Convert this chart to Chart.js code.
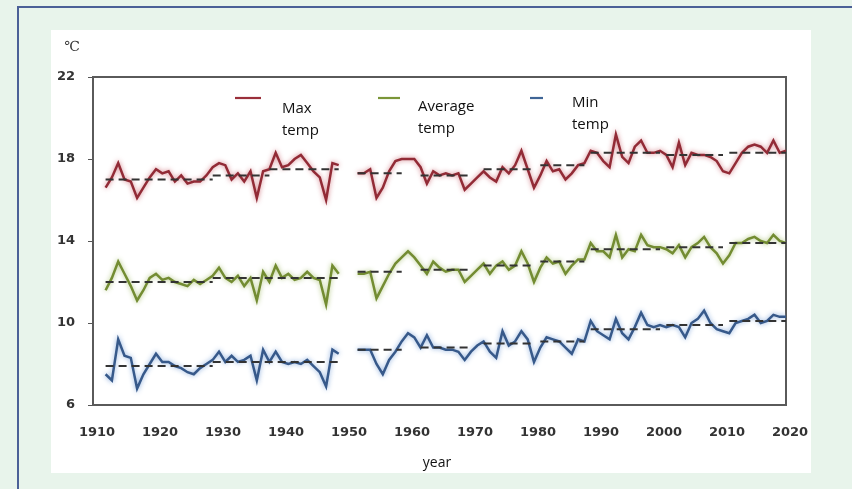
<!DOCTYPE html>
<html>
<head>
<meta charset="utf-8">
<script src="https://cdn.jsdelivr.net/npm/chart.js@4.4.0/dist/chart.umd.min.js"></script>
<style>
  html, body { margin: 0; padding: 0; width: 852px; height: 489px; overflow: hidden; background: #e8f4eb; }
  #frame { position: absolute; left: 17px; top: 6px; width: 860px; height: 500px; border: 2px solid #4b6097; box-sizing: border-box; }
  #panel { position: absolute; left: 51px; top: 30px; width: 760px; height: 443px; background: #ffffff; }
  #wrap { position: absolute; left: 0; top: 0; width: 852px; height: 489px; }
</style>
</head>
<body>
<div id="frame"></div>
<div id="panel"></div>
<div id="wrap"><canvas id="chart" width="852" height="489"></canvas></div>
<script>
// years 1912..2020, 1950 and 1951 are missing
const firstYear = 1912;
const lastYear = 2020;

const maxTemp = [
  16.6, 17.1, 17.8, 17.0, 16.9, 16.1, 16.6, 17.1, 17.5, 17.3,
  17.4, 16.9, 17.2, 16.8, 16.9, 16.9, 17.2, 17.6, 17.8, 17.7,
  17.0, 17.3, 16.9, 17.4, 16.1, 17.4, 17.5, 18.3, 17.6, 17.7,
  18.0, 18.2, 17.8, 17.4, 17.1, 16.0, 17.8, 17.7, null, null,
  17.3, 17.3, 17.5, 16.1, 16.6, 17.4, 17.9, 18.0, 18.0, 18.0,
  17.6, 16.8, 17.4, 17.2, 17.3, 17.2, 17.3, 16.5, 16.8, 17.1,
  17.4, 17.1, 16.9, 17.6, 17.3, 17.7, 18.4, 17.5, 16.6, 17.2,
  17.9, 17.4, 17.5, 17.0, 17.3, 17.7, 17.8, 18.4, 18.3, 17.9,
  17.6, 19.2, 18.1, 17.8, 18.6, 18.9, 18.3, 18.3, 18.4, 18.2,
  17.6, 18.8, 17.7, 18.3, 18.2, 18.2, 18.1, 17.9, 17.4, 17.3,
  17.8, 18.3, 18.6, 18.7, 18.6, 18.3, 18.9, 18.3, 18.4
];
const avgTemp = [
  11.6, 12.2, 13.0, 12.4, 11.8, 11.1, 11.6, 12.2, 12.4, 12.1,
  12.2, 12.0, 11.9, 11.8, 12.1, 11.9, 12.1, 12.3, 12.7, 12.2,
  12.0, 12.3, 11.8, 12.2, 11.1, 12.5, 12.0, 12.8, 12.2, 12.4,
  12.1, 12.2, 12.5, 12.2, 12.1, 10.9, 12.8, 12.4, null, null,
  12.4, 12.4, 12.5, 11.2, 11.8, 12.4, 12.9, 13.2, 13.5, 13.2,
  12.8, 12.4, 13.0, 12.7, 12.5, 12.6, 12.6, 12.0, 12.3, 12.6,
  12.9, 12.4, 12.8, 13.0, 12.6, 12.8, 13.5, 12.9, 12.0, 12.7,
  13.2, 12.9, 13.0, 12.4, 12.8, 13.1, 13.1, 13.9, 13.5, 13.5,
  13.2, 14.3, 13.2, 13.6, 13.5, 14.3, 13.8, 13.7, 13.7, 13.6,
  13.4, 13.8, 13.2, 13.7, 13.9, 14.2, 13.7, 13.4, 12.9, 13.3,
  13.9, 13.9, 14.1, 14.2, 14.0, 13.9, 14.3, 14.0, 13.9
];
const minTemp = [
  7.5, 7.2, 9.2, 8.4, 8.3, 6.8, 7.5, 8.0, 8.5, 8.1,
  8.1, 7.9, 7.8, 7.6, 7.5, 7.8, 8.0, 8.2, 8.6, 8.1,
  8.4, 8.1, 8.2, 8.4, 7.2, 8.7, 8.1, 8.6, 8.1, 8.0,
  8.1, 8.0, 8.2, 7.9, 7.6, 6.9, 8.7, 8.5, null, null,
  8.7, 8.7, 8.7, 8.0, 7.5, 8.2, 8.6, 9.1, 9.5, 9.3,
  8.8, 9.4, 8.8, 8.8, 8.7, 8.7, 8.6, 8.2, 8.6, 8.9,
  9.1, 8.6, 8.3, 9.6, 8.9, 9.1, 9.6, 9.2, 8.1, 8.8,
  9.3, 9.2, 9.1, 8.8, 8.5, 9.2, 9.1, 10.1, 9.6, 9.4,
  9.2, 10.2, 9.5, 9.2, 9.8, 10.5, 9.9, 9.8, 9.9, 9.8,
  9.9, 9.8, 9.3, 10.0, 10.2, 10.6, 10.0, 9.7, 9.6, 9.5,
  10.0, 10.1, 10.2, 10.4, 10.0, 10.1, 10.4, 10.3, 10.3
];

// period means: [from, to, value]
const maxTrend = [[1912, 1929, 17.0], [1929, 1938, 17.2], [1938, 1949, 17.5], [1952, 1959, 17.3], [1962, 1970, 17.2],
  [1972, 1980, 17.5], [1981, 1988, 17.7], [1989, 2000, 18.3], [2001, 2010, 18.2], [2011, 2020, 18.3]];
const avgTrend = [[1912, 1929, 12.0], [1929, 1949, 12.2], [1952, 1959, 12.5], [1962, 1970, 12.6],
  [1972, 1980, 12.8], [1981, 1988, 13.0], [1989, 2000, 13.6], [2001, 2010, 13.7], [2011, 2020, 13.9]];
const minTrend = [[1912, 1929, 7.9], [1929, 1949, 8.1], [1952, 1959, 8.7], [1962, 1970, 8.8],
  [1972, 1980, 9.0], [1981, 1988, 9.1], [1989, 2000, 9.7], [2001, 2010, 9.9], [2011, 2020, 10.1]];

const yTicks = [6, 10, 14, 18, 22];
const xTicks = [1910, 1920, 1930, 1940, 1950, 1960, 1970, 1980, 1990, 2000, 2010, 2020];

const years = [];
for (let y = firstYear; y <= lastYear; y++) years.push(y);

const toPoints = vals => years.map((yr, i) => ({ x: yr, y: vals[i] }));
const trendPoints = segs => {
  const pts = [];
  segs.forEach(s => {
    pts.push({ x: s[0], y: s[2] }, { x: s[1], y: s[2] }, { x: s[1] + 0.5, y: null });
  });
  return pts;
};

const trendStyle = {
  borderColor: '#333333', borderWidth: 2, borderDash: [8, 5], pointRadius: 0,
  fill: false, spanGaps: false, order: 0
};
const lineStyle = { borderWidth: 2.5, pointRadius: 0, fill: false, spanGaps: false, tension: 0, order: 1 };

const glow = {
  id: 'glow',
  beforeDatasetDraw(chart, args) {
    const ds = chart.data.datasets[args.index];
    if (!ds.glow) return;
    const ctx = chart.ctx;
    ctx.save();
    ctx.shadowColor = ds.glow;
    ctx.shadowBlur = 5;
  },
  afterDatasetDraw(chart, args) {
    const ds = chart.data.datasets[args.index];
    if (ds.glow) chart.ctx.restore();
  }
};

const decor = {
  id: 'decor',
  beforeDatasetsDraw(chart) {
    const { ctx, chartArea: a } = chart;
    ctx.save();
    ctx.strokeStyle = '#5a5a5a';
    ctx.lineWidth = 2;
    ctx.strokeRect(a.left, a.top, a.right - a.left, a.bottom - a.top);
    ctx.restore();
  },
  afterDraw(chart) {
    const ctx = chart.ctx;
    ctx.save();
    ctx.fillStyle = '#333';
    ctx.font = '14px "DejaVu Serif"';
    ctx.textAlign = 'center';
    ctx.textBaseline = 'middle';
    ctx.fillText('℃', 72, 47);

    ctx.fillStyle = '#111';
    ctx.font = '14px "Open Sans"';
    ctx.fillText('year', 437, 463);

    // legend
    const items = [
      { color: '#9a2f3a', x1: 235, x2: 261, tx: 282, lines: ['Max', 'temp'], ty: 109 },
      { color: '#7b9638', x1: 378, x2: 400, tx: 418, lines: ['Average', 'temp'], ty: 107 },
      { color: '#3f6596', x1: 530, x2: 543, tx: 572, lines: ['Min', 'temp'], ty: 103 }
    ];
    ctx.textAlign = 'left';
    ctx.font = '15px "Open Sans"';
    items.forEach(it => {
      ctx.strokeStyle = it.color;
      ctx.lineWidth = 2.2;
      ctx.beginPath();
      ctx.moveTo(it.x1, 98);
      ctx.lineTo(it.x2, 98);
      ctx.stroke();
      ctx.fillStyle = '#111';
      it.lines.forEach((t, k) => ctx.fillText(t, it.tx, it.ty + k * 22));
    });
    ctx.restore();
  }
};

new Chart(document.getElementById('chart'), {
  type: 'line',
  data: {
    datasets: [
      { ...trendStyle, data: trendPoints(maxTrend) },
      { ...trendStyle, data: trendPoints(avgTrend) },
      { ...trendStyle, data: trendPoints(minTrend) },
      { ...lineStyle, label: 'Max temp', data: toPoints(maxTemp), borderColor: '#922b36', glow: 'rgba(205,110,120,0.9)' },
      { ...lineStyle, label: 'Average temp', data: toPoints(avgTemp), borderColor: '#738c32', glow: 'rgba(165,190,110,0.9)' },
      { ...lineStyle, label: 'Min temp', data: toPoints(minTemp), borderColor: '#37598a', glow: 'rgba(120,160,215,0.9)' }
    ]
  },
  options: {
    responsive: false,
    animation: false,
    layout: { padding: { left: 0, right: 66, top: 77, bottom: 0 } },
    plugins: { legend: { display: false }, tooltip: { enabled: false } },
    scales: {
      x: {
        type: 'linear',
        min: 1910,
        max: 2020,
        afterBuildTicks: s => { s.ticks = xTicks.map(v => ({ value: v })); },
        afterFit: s => { s.height = 84; },
        grid: { display: false, drawTicks: false },
        border: { display: false },
        ticks: {
          padding: 20,
          labelOffset: 4,
          color: '#333',
          font: { family: 'DejaVu Sans', size: 13, weight: 'bold' },
          callback: v => String(v)
        }
      },
      y: {
        min: 6,
        max: 22,
        afterBuildTicks: s => { s.ticks = yTicks.map(v => ({ value: v })); },
        afterFit: s => { s.width = 93; },
        grid: { drawOnChartArea: false, drawTicks: true, tickLength: 5, color: '#555' },
        border: { display: false },
        ticks: {
          padding: 13,
          color: '#333',
          font: { family: 'DejaVu Sans', size: 13, weight: 'bold' }
        }
      }
    }
  },
  plugins: [glow, decor]
});
</script>
</body>
</html>
